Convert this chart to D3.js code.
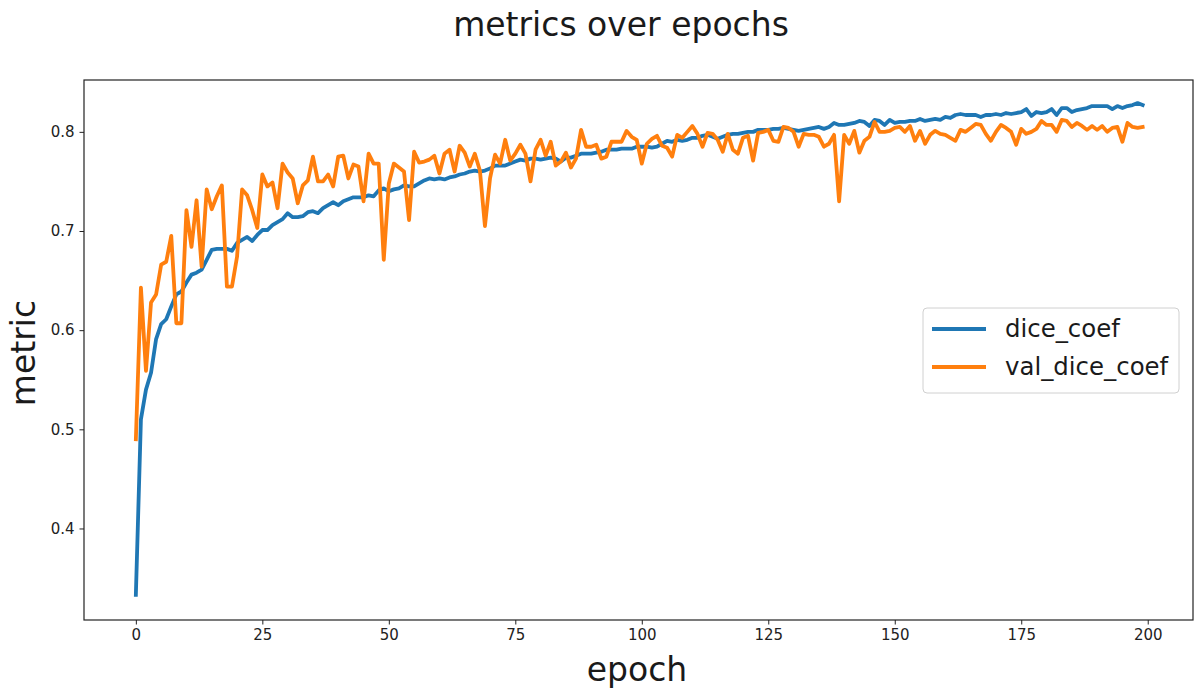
<!DOCTYPE html>
<html>
<head>
<meta charset="utf-8">
<script src="https://cdn.jsdelivr.net/npm/d3@7"></script>
<style>
  html, body { margin: 0; padding: 0; background: #fff; }
  svg { display: block; font-family: "DejaVu Sans", sans-serif; }
</style>
</head>
<body>
<svg id="chart" width="1194" height="690"></svg>
<script>
// Training history: dice coefficient per epoch (train and validation)
const seriesNames = ["dice_coef", "val_dice_coef"];
const seriesColors = ["#1f77b4", "#ff7f0e"];

const diceCoef = [
  0.333, 0.510, 0.540, 0.557, 0.591, 0.606, 0.611, 0.624, 0.636, 0.639,
  0.648, 0.656, 0.658, 0.661, 0.671, 0.681, 0.682, 0.682, 0.682, 0.680,
  0.688, 0.691, 0.694, 0.690, 0.696, 0.701, 0.701, 0.706, 0.709, 0.712,
  0.718, 0.714, 0.714, 0.715, 0.719, 0.720, 0.718, 0.723, 0.726, 0.729,
  0.726, 0.730, 0.732, 0.734, 0.734, 0.734, 0.736, 0.735, 0.741, 0.743,
  0.740, 0.742, 0.743, 0.746, 0.745, 0.745, 0.748, 0.751, 0.753, 0.752,
  0.753, 0.752, 0.754, 0.755, 0.757, 0.758, 0.760, 0.761, 0.760, 0.761,
  0.763, 0.766, 0.766, 0.766, 0.768, 0.770, 0.772, 0.771, 0.773, 0.773,
  0.772, 0.773, 0.774, 0.773, 0.770, 0.774, 0.774, 0.776, 0.778, 0.778,
  0.778, 0.779, 0.780, 0.782, 0.782, 0.782, 0.783, 0.783, 0.783, 0.785,
  0.785, 0.785, 0.784, 0.785, 0.788, 0.791, 0.790, 0.792, 0.791, 0.792,
  0.794, 0.794, 0.796, 0.797, 0.795, 0.793, 0.795, 0.797, 0.798, 0.798,
  0.799, 0.800, 0.800, 0.802, 0.802, 0.802, 0.803, 0.803, 0.804, 0.803,
  0.802, 0.801, 0.802, 0.803, 0.804, 0.805, 0.803, 0.805, 0.809, 0.807,
  0.807, 0.808, 0.809, 0.811, 0.810, 0.806, 0.812, 0.811, 0.807, 0.812,
  0.809, 0.810, 0.810, 0.811, 0.811, 0.813, 0.811, 0.812, 0.813, 0.812,
  0.815, 0.814, 0.817, 0.818, 0.817, 0.817, 0.817, 0.815, 0.817, 0.817,
  0.818, 0.817, 0.819, 0.818, 0.819, 0.820, 0.823, 0.816, 0.820, 0.819,
  0.820, 0.823, 0.817, 0.824, 0.824, 0.820, 0.822, 0.823, 0.824, 0.826,
  0.826, 0.826, 0.826, 0.823, 0.826, 0.824, 0.826, 0.827, 0.829, 0.827
];

const valDiceCoef = [
  0.490, 0.643, 0.559, 0.628, 0.636, 0.666, 0.669, 0.695, 0.607, 0.607,
  0.721, 0.684, 0.731, 0.664, 0.742, 0.722, 0.735, 0.746, 0.644, 0.644,
  0.674, 0.742, 0.736, 0.721, 0.703, 0.757, 0.745, 0.749, 0.723, 0.768,
  0.759, 0.753, 0.728, 0.746, 0.751, 0.775, 0.750, 0.750, 0.757, 0.745,
  0.775, 0.776, 0.753, 0.767, 0.765, 0.730, 0.778, 0.768, 0.768, 0.671,
  0.748, 0.768, 0.764, 0.760, 0.711, 0.780, 0.769, 0.770, 0.772, 0.776,
  0.758, 0.778, 0.782, 0.760, 0.786, 0.779, 0.765, 0.778, 0.761, 0.705,
  0.753, 0.777, 0.768, 0.792, 0.771, 0.778, 0.787, 0.778, 0.750, 0.782,
  0.792, 0.776, 0.790, 0.766, 0.770, 0.779, 0.764, 0.773, 0.802, 0.785,
  0.785, 0.787, 0.773, 0.775, 0.790, 0.790, 0.790, 0.801, 0.795, 0.792,
  0.768, 0.788, 0.793, 0.796, 0.786, 0.784, 0.775, 0.797, 0.794, 0.800,
  0.806, 0.798, 0.785, 0.799, 0.798, 0.792, 0.780, 0.798, 0.782, 0.778,
  0.794, 0.796, 0.771, 0.799, 0.800, 0.802, 0.791, 0.790, 0.805, 0.804,
  0.800, 0.785, 0.798, 0.797, 0.797, 0.795, 0.785, 0.788, 0.797, 0.730,
  0.797, 0.788, 0.801, 0.779, 0.791, 0.795, 0.810, 0.800, 0.800, 0.801,
  0.804, 0.805, 0.800, 0.806, 0.791, 0.801, 0.788, 0.797, 0.801, 0.798,
  0.797, 0.794, 0.791, 0.802, 0.800, 0.804, 0.808, 0.807, 0.798, 0.791,
  0.800, 0.807, 0.804, 0.800, 0.787, 0.803, 0.798, 0.800, 0.803, 0.811,
  0.807, 0.807, 0.800, 0.812, 0.811, 0.805, 0.809, 0.806, 0.802, 0.806,
  0.802, 0.806, 0.800, 0.804, 0.805, 0.790, 0.809, 0.805, 0.804, 0.805
];

const xTicks = [0, 25, 50, 75, 100, 125, 150, 175, 200];
const yTicks = [0.4, 0.5, 0.6, 0.7, 0.8];

const svg = d3.select("#chart");
const plot = { left: 84, right: 1193, top: 80, bottom: 620 };

const x = d3.scaleLinear().domain([-10.25, 208.95]).range([plot.left, plot.right]);
const y = d3.scaleLinear().domain([0.3077, 0.8523]).range([plot.bottom, plot.top]);

// Title
svg.append("text")
  .attr("x", 621).attr("y", 36)
  .attr("text-anchor", "middle")
  .attr("font-size", 33).attr("fill", "#1a1a1a")
  .text("metrics over epochs");

// Lines
const line = d3.line().x((d, i) => x(i)).y(d => y(d));
[diceCoef, valDiceCoef].forEach((vals, k) => {
  svg.append("path")
    .datum(vals)
    .attr("d", line)
    .attr("fill", "none")
    .attr("stroke", seriesColors[k])
    .attr("stroke-width", 3.8)
    .attr("stroke-linejoin", "round")
    .attr("stroke-linecap", "square");
});

// Axes
const xAxis = d3.axisBottom(x).tickValues(xTicks).tickSize(4.5).tickPadding(5).tickFormat(d3.format("d"));
const yAxis = d3.axisLeft(y).tickValues(yTicks).tickSize(4.5).tickPadding(5).tickFormat(d3.format(".1f"));

const gx = svg.append("g").attr("transform", `translate(0,${plot.bottom})`).call(xAxis);
const gy = svg.append("g").attr("transform", `translate(${plot.left},0)`).call(yAxis);
[gx, gy].forEach(g => {
  g.select(".domain").remove();
  g.selectAll("line").attr("stroke", "#222").attr("stroke-width", 1);
  g.selectAll("text").attr("font-size", 15).attr("fill", "#222")
    .attr("font-family", "DejaVu Sans, sans-serif");
});

// Frame
svg.append("rect")
  .attr("x", plot.left).attr("y", plot.top)
  .attr("width", plot.right - plot.left).attr("height", plot.bottom - plot.top)
  .attr("fill", "none").attr("stroke", "#222").attr("stroke-width", 1.2);

// Axis labels
svg.append("text")
  .attr("x", 637).attr("y", 681)
  .attr("text-anchor", "middle")
  .attr("font-size", 33).attr("fill", "#1a1a1a")
  .text("epoch");
svg.append("text")
  .attr("transform", "translate(35,353) rotate(-90)")
  .attr("text-anchor", "middle")
  .attr("font-size", 33).attr("fill", "#1a1a1a")
  .text("metric");

// Legend
const legend = svg.append("g").attr("transform", "translate(923,308)");
legend.append("rect")
  .attr("width", 256).attr("height", 85).attr("rx", 4)
  .attr("fill", "#fff").attr("fill-opacity", 0.8)
  .attr("stroke", "#d0d0d0").attr("stroke-width", 1);
seriesNames.forEach((name, i) => {
  const cy = 21 + i * 38;
  legend.append("line")
    .attr("x1", 9).attr("x2", 63).attr("y1", cy).attr("y2", cy)
    .attr("stroke", seriesColors[i]).attr("stroke-width", 3.8);
  legend.append("text")
    .attr("x", 82).attr("y", cy + 8)
    .attr("font-size", 24.4).attr("fill", "#1a1a1a")
    .text(name);
});
</script>
</body>
</html>
